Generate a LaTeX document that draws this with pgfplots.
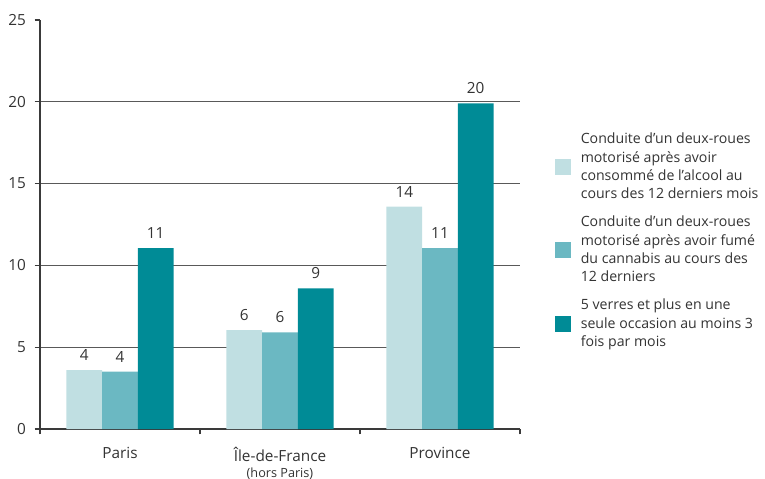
\documentclass[border=0pt]{standalone}
\usepackage{pgfplots}
\pgfplotsset{compat=1.18}
\usepackage{fontspec}
\setmainfont{Open Sans}
\definecolor{c1}{HTML}{C0DFE2}
\definecolor{c2}{HTML}{6BB8C2}
\definecolor{c3}{HTML}{008B96}
\definecolor{txt}{HTML}{333333}
\definecolor{axc}{HTML}{3A3A3A}
\begin{document}
\begin{tikzpicture}[font=\fontsize{11.5}{13}\selectfont, text=txt]
\path[use as bounding box] (-30pt,-37.5pt) rectangle (543.75pt,321.75pt);
\begin{axis}[
  scale only axis, width=360pt, height=306.75pt,
  at={(0,0)}, anchor=south west,
  xmin=-0.5, xmax=2.5, ymin=0, ymax=25,
  ybar=0pt, bar width=26.8pt,
  axis lines=left,
  axis line style={-, draw=axc, line width=0.8pt},
  /pgf/number format/assume math mode=true,
  ytick={0,5,10,15,20},
  extra y ticks={25},
  extra y tick style={grid=none},
  ymajorgrids,
  major grid style={draw=gray!70!black, line width=0.8pt},
  tick align=outside, major tick length=4pt,
  tick style={draw=axc, line width=0.8pt},
  yticklabel style={xshift=-3pt},
  xtick={-0.5,0.5,1.5,2.5}, xticklabels={},
  extra x ticks={0,1,2},
  extra x tick labels={Paris, {Île-de-France\\[-1pt]{\fontsize{9.5}{11}\selectfont (hors Paris)}}, Province},
  extra x tick style={major tick length=0pt, xmajorgrids=false},
  xticklabel style={align=center, anchor=north, yshift=-10pt},
  nodes near coords,
  point meta=explicit symbolic,
  every node near coord/.append style={text=txt, yshift=3.5pt},
  legend cell align=left,
  legend image code/.code={\fill[#1] (0pt,-6pt) rectangle (12pt,6pt);},
  legend style={at={(rel axis cs:1.065,0.46)}, anchor=west, draw=none, fill=none,
    font=\fontsize{10.6}{13.75}\selectfont, row sep=7.5pt, column sep=5pt,
    cells={anchor=west, align=left}},
]
\addplot[fill=c1, draw=none] coordinates {(0,3.6) [4] (1,6.05) [6] (2,13.6) [14]};
\addplot[fill=c2, draw=none] coordinates {(0,3.5) [4] (1,5.9) [6] (2,11.06) [11]};
\addplot[fill=c3, draw=none] coordinates {(0,11.06) [11] (1,8.6) [9] (2,19.9) [20]};
\legend{{Conduite d’un deux-roues\\motorisé après avoir\\consommé de l’alcool au\\cours des 12 derniers mois},
  {Conduite d’un deux-roues\\motorisé après avoir fumé\\du cannabis au cours des\\12 derniers},
  {5 verres et plus en une\\seule occasion au moins 3\\fois par mois}}
\end{axis}
\end{tikzpicture}
\end{document}
